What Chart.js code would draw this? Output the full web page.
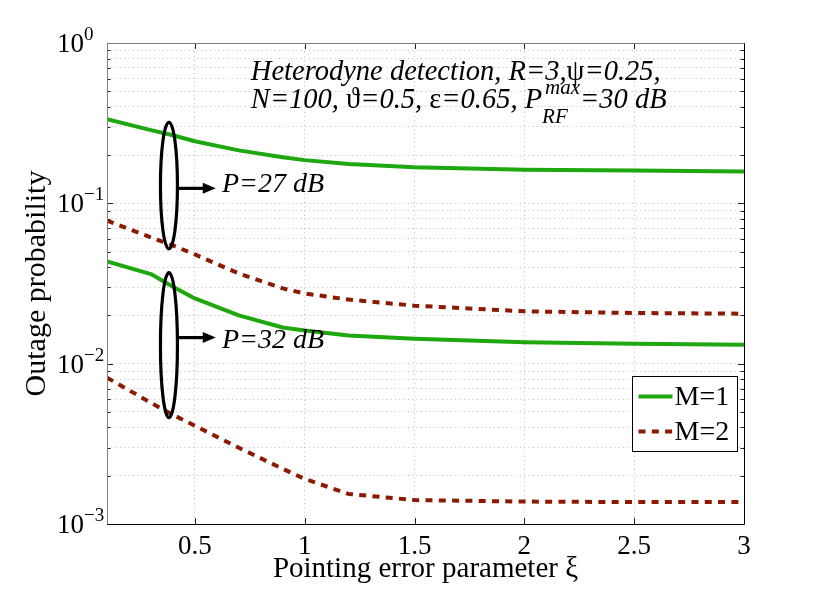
<!DOCTYPE html>
<html>
<head>
<meta charset="utf-8">
<script src="https://cdn.jsdelivr.net/npm/chart.js@4.4.1/dist/chart.umd.min.js"></script>
<style>
  html, body { margin: 0; padding: 0; background: #fff; }
  canvas { display: block; }
</style>
</head>
<body>
<canvas id="chart" width="822" height="590"></canvas>
<script>
(function () {
  'use strict';

  // Pointing error parameter (x values)
  var XI = [0.1, 0.3, 0.4, 0.5, 0.7, 0.9, 1.0, 1.2, 1.5, 2.0, 2.5, 3.0];

  // Outage probability, P = 27 dB
  var M1_P27 = [0.335, 0.286, 0.266, 0.244, 0.214, 0.194, 0.186, 0.176, 0.168, 0.162, 0.160, 0.158];
  var M2_P27 = [0.078, 0.0613, 0.0546, 0.048, 0.0365, 0.0295, 0.0274, 0.0251, 0.0230, 0.0212, 0.0207, 0.0205];

  // Outage probability, P = 32 dB
  var M1_P32 = [0.0434, 0.0362, 0.0302, 0.0255, 0.0200, 0.0168, 0.0161, 0.0150, 0.0143, 0.0136, 0.0133, 0.0131];
  var M2_P32 = [0.00818, 0.0057, 0.0048, 0.0041, 0.00299, 0.00221, 0.00191, 0.00154, 0.00141, 0.00138, 0.00137, 0.00137];

  var X_TICKS = [0.5, 1, 1.5, 2, 2.5, 3];
  var Y_DECADES = [-3, -2, -1, 0];
  var Y_MANTISSAS = [1, 2, 3, 4, 5, 6, 7, 8, 9];

  var LEGEND_LABELS = ['M=1', 'M=2'];

  // Ellipse groups: x centre, y top, y bottom, arrow y, arrow tip x, label x, label baseline y, label
  var GROUP_X = [0.382, 0.382];
  var GROUP_TOP = [0.32, 0.037];
  var GROUP_BOTTOM = [0.052, 0.0046];
  var ARROW_Y = [0.124, 0.01454];
  var ARROW_TIP_X = [0.595, 0.595];
  var LABEL_X = [0.623, 0.623];
  var LABEL_Y = [0.117, 0.0126];
  var GROUP_LABELS = ['P=27 dB', 'P=32 dB'];

  var GREEN = '#1fa70f';
  var RED = '#8c1a00';
  var SERIF = "'Liberation Serif', 'DejaVu Serif', serif";

  function points(ys) {
    return XI.map(function (x, i) { return { x: x, y: ys[i] }; });
  }

  function series(label, ys, color, dashed) {
    return {
      label: label,
      data: points(ys),
      borderColor: color,
      backgroundColor: color,
      borderWidth: 4,
      borderDash: dashed ? [7, 6.3] : [],
      borderCapStyle: 'butt',
      borderJoinStyle: 'round',
      pointRadius: 0,
      tension: 0,
      fill: false
    };
  }

  // Draw a run of text pieces; each piece is [text, style]
  function drawRuns(ctx, runs, x, y) {
    var cx = x;
    var stackStart = null, stackWidth = 0;
    runs.forEach(function (r) {
      var text = r[0], style = r[1];
      if (style === 'sup' || style === 'sub') {
        ctx.font = 'italic 21px ' + SERIF;
        if (stackStart === null) stackStart = cx;
        var off = style === 'sup' ? -14 : 15;
        var dx = style === 'sup' ? 3 : 0;
        ctx.fillText(text, stackStart + dx, y + off);
        stackWidth = Math.max(stackWidth, ctx.measureText(text).width + dx);
        return;
      }
      if (stackStart !== null) {
        cx = stackStart + stackWidth;
        stackStart = null;
        stackWidth = 0;
      }
      ctx.font = (style === 'i' ? 'italic ' : '') + '28.5px ' + SERIF;
      ctx.fillText(text, cx, y);
      cx += ctx.measureText(text).width;
    });
  }

  var NOTE_LINES = [
    [['Heterodyne detection, R=3,', 'i'], ['\u03C8', 'n'], ['=0.25,', 'i']],
    [['N=100, ', 'i'], ['\u03D1', 'n'], ['=0.5, ', 'i'], ['\u03B5', 'n'], ['=0.65, ', 'i'],
     ['P', 'i'], ['max', 'sup'], ['RF', 'sub'], ['=30 dB', 'i']]
  ];
  var NOTE_X = 0.755;
  var NOTE_Y = [0.587, 0.392];

  var overlay = {
    id: 'overlay',
    afterDatasetsDraw: function (chart) {
      var ctx = chart.ctx;
      var xs = chart.scales.x, ys = chart.scales.y;
      var a = chart.chartArea;
      ctx.save();

      // ellipses, arrows, labels
      ctx.strokeStyle = '#000';
      ctx.fillStyle = '#000';
      ctx.lineWidth = 3.2;
      GROUP_X.forEach(function (gx, i) {
        var cx = xs.getPixelForValue(gx);
        var t = ys.getPixelForValue(GROUP_TOP[i]);
        var b = ys.getPixelForValue(GROUP_BOTTOM[i]);
        ctx.beginPath();
        ctx.ellipse(cx, (t + b) / 2, 8.5, (b - t) / 2, 0, 0, Math.PI * 2);
        ctx.stroke();

        var ay = ys.getPixelForValue(ARROW_Y[i]);
        var tip = xs.getPixelForValue(ARROW_TIP_X[i]);
        ctx.beginPath();
        ctx.moveTo(cx + 8.5, ay);
        ctx.lineTo(tip - 10, ay);
        ctx.stroke();
        ctx.beginPath();
        ctx.moveTo(tip, ay);
        ctx.lineTo(tip - 13, ay - 5.5);
        ctx.lineTo(tip - 13, ay + 5.5);
        ctx.closePath();
        ctx.fill();

        ctx.font = 'italic 28px ' + SERIF;
        ctx.textBaseline = 'alphabetic';
        ctx.textAlign = 'left';
        ctx.fillText(GROUP_LABELS[i], xs.getPixelForValue(LABEL_X[i]), ys.getPixelForValue(LABEL_Y[i]));
      });

      // parameter note
      ctx.textBaseline = 'alphabetic';
      NOTE_LINES.forEach(function (runs, i) {
        drawRuns(ctx, runs, xs.getPixelForValue(NOTE_X), ys.getPixelForValue(NOTE_Y[i]));
      });

      // inward tick marks
      ctx.lineWidth = 1;
      ctx.strokeStyle = '#222';
      ctx.beginPath();
      X_TICKS.forEach(function (v) {
        var px = Math.round(xs.getPixelForValue(v)) + 0.5;
        ctx.moveTo(px, a.bottom); ctx.lineTo(px, a.bottom - 6);
        ctx.moveTo(px, a.top); ctx.lineTo(px, a.top + 6);
      });
      ys.ticks.forEach(function (t) {
        var py = Math.round(ys.getPixelForValue(t.value)) + 0.5;
        var len = t.major ? 6 : 3.5;
        ctx.moveTo(a.left, py); ctx.lineTo(a.left + len, py);
        ctx.moveTo(a.right, py); ctx.lineTo(a.right - len, py);
      });
      ctx.stroke();

      // axes box
      var L = Math.round(a.left) + 0.5, R = Math.round(a.right) + 0.5;
      var T = Math.round(a.top) + 0.5, B = Math.round(a.bottom) + 0.5;
      ctx.strokeStyle = '#808080';
      ctx.beginPath();
      ctx.moveTo(L, B); ctx.lineTo(L, T); ctx.lineTo(R, T);
      ctx.stroke();
      ctx.strokeStyle = '#000';
      ctx.beginPath();
      ctx.moveTo(R, T); ctx.lineTo(R, B); ctx.lineTo(L, B);
      ctx.stroke();

      // y tick labels 10^n
      ctx.fillStyle = '#000';
      ctx.textAlign = 'left';
      ctx.textBaseline = 'middle';
      Y_DECADES.forEach(function (e) {
        var py = ys.getPixelForValue(Math.pow(10, e));
        var lx = a.left - 50;
        ctx.font = '27px ' + SERIF;
        ctx.fillText('10', lx, py + 2);
        var w = ctx.measureText('10').width;
        ctx.font = '19px ' + SERIF;
        ctx.fillText(e === 0 ? '0' : '\u2212' + (-e), lx + w, py - 8);
      });

      // legend
      var lw = 105, lh = 75;
      var lx0 = Math.round(a.right - 112) + 0.5, ly0 = Math.round(a.bottom - 148) + 0.5;
      ctx.fillStyle = '#fff';
      ctx.fillRect(lx0, ly0, lw, lh);
      ctx.strokeStyle = '#000';
      ctx.lineWidth = 1;
      ctx.strokeRect(lx0, ly0, lw, lh);
      LEGEND_LABELS.forEach(function (lab, i) {
        var ds = chart.data.datasets[i];
        var ry = ly0 + 20 + i * 35;
        ctx.save();
        ctx.strokeStyle = ds.borderColor;
        ctx.lineWidth = ds.borderWidth;
        ctx.lineCap = 'butt';
        ctx.setLineDash(ds.borderDash);
        ctx.beginPath();
        ctx.moveTo(lx0 + 6, ry);
        ctx.lineTo(lx0 + 40, ry);
        ctx.stroke();
        ctx.restore();
        ctx.fillStyle = '#000';
        ctx.font = '28px ' + SERIF;
        ctx.textBaseline = 'middle';
        ctx.fillText(lab, lx0 + 42, ry + 1);
      });

      ctx.restore();
    }
  };

  var yTickValues = [];
  Y_DECADES.forEach(function (e) {
    Y_MANTISSAS.forEach(function (m) {
      var v = m * Math.pow(10, e);
      if (v <= 1.0000001) yTickValues.push({ value: v, major: m === 1 });
    });
  });

  new Chart(document.getElementById('chart'), {
    type: 'line',
    data: {
      datasets: [
        series('M=1', M1_P27, GREEN, false),
        series('M=2', M2_P27, RED, true),
        series('M=1 (32 dB)', M1_P32, GREEN, false),
        series('M=2 (32 dB)', M2_P32, RED, true)
      ]
    },
    options: {
      responsive: false,
      animation: false,
      devicePixelRatio: 1,
      layout: { padding: { top: 43, right: 78, left: 0, bottom: 0 } },
      plugins: {
        legend: { display: false },
        tooltip: { enabled: false },
        title: { display: false }
      },
      scales: {
        x: {
          type: 'linear',
          min: 0.1,
          max: 3,
          afterBuildTicks: function (s) {
            s.ticks = X_TICKS.map(function (v) { return { value: v }; });
          },
          afterFit: function (s) { s.height = 66; },
          ticks: {
            color: '#000',
            padding: 7,
            maxRotation: 0,
            font: { family: SERIF, size: 27 },
            callback: function (v) { return String(v); }
          },
          grid: { color: '#bdbdbd', lineWidth: 1, drawTicks: false },
          border: { display: false, dash: [1, 3.3] },
          title: {
            display: true,
            text: 'Pointing error parameter \u03BE',
            color: '#000',
            font: { family: SERIF, size: 29 },
            padding: { bottom: 3, top: 0 }
          }
        },
        y: {
          type: 'logarithmic',
          min: 0.001,
          max: 1,
          afterBuildTicks: function (s) { s.ticks = yTickValues.slice(); },
          afterFit: function (s) { s.width = 107; },
          ticks: {
            callback: function () { return ''; }
          },
          grid: { color: '#bdbdbd', lineWidth: 1, drawTicks: false },
          border: { display: false, dash: [1, 3.3] },
          title: {
            display: true,
            text: 'Outage probability',
            color: '#000',
            font: { family: SERIF, size: 30 },
            padding: { top: 19, bottom: 0 }
          }
        }
      }
    },
    plugins: [overlay]
  });
})();
</script>
</body>
</html>
